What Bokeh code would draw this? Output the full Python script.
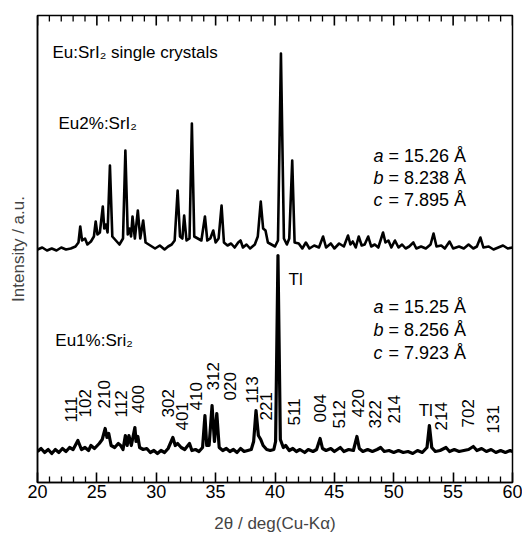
from bokeh.plotting import figure
from bokeh.models import Range1d, FixedTicker
from bokeh.core.properties import value
from bokeh.embed import file_html
from bokeh.resources import INLINE
import math

# ---- data (2theta in deg, intensity in a.u. above each baseline) ----
tt_eu2 = [20.0, 20.4, 20.8, 21.2, 21.6, 22.0, 22.4, 22.8, 23.2, 23.45, 23.6, 23.75, 24.0, 24.2, 24.5,
          24.75, 24.9, 25.05, 25.25, 25.5, 25.62, 25.75, 25.9, 26.1, 26.3, 26.6, 26.9, 27.2, 27.4,
          27.6, 27.75, 27.88, 28.0, 28.2, 28.45, 28.65, 28.9, 29.1, 29.5, 29.9, 30.3, 30.7, 31.0,
          31.3, 31.55, 31.8, 32.0, 32.2, 32.35, 32.55, 32.8, 33.0, 33.2, 33.5, 33.8, 34.1, 34.3,
          34.55, 34.8, 35.0, 35.25, 35.5, 35.7, 36.0, 36.3, 36.6, 36.9, 37.1, 37.3, 37.6, 37.9,
          38.3, 38.55, 38.8, 39.0, 39.2, 39.4, 39.7, 40.0, 40.25, 40.5, 40.75, 41.0, 41.2, 41.45,
          41.65, 42.0, 42.3, 42.6, 42.9, 43.3, 43.7, 44.05, 44.3, 44.7, 45.0, 45.4, 45.8, 46.15,
          46.35, 46.55, 46.8, 47.05, 47.3, 47.55, 47.85, 48.1, 48.4, 48.7, 49.1, 49.3, 49.55, 49.8,
          50.1, 50.4, 50.7, 51.0, 51.3, 51.65, 51.9, 52.3, 52.7, 53.1, 53.35, 53.6, 54.0, 54.3,
          54.7, 55.0, 55.5, 55.9, 56.3, 56.7, 57.0, 57.3, 57.55, 58.0, 58.4, 58.8, 59.2, 59.6, 60.0]
int_eu2 = [1, 3, 0, 2, 0, 3, 1, 2, 4, 8, 24, 10, 12, 6, 9,
           14, 29, 16, 18, 44, 22, 26, 18, 85, 14, 10, 6, 12, 100,
           16, 22, 14, 34, 12, 40, 12, 30, 8, 5, 2, 5, 1, 4,
           6, 10, 60, 14, 12, 35, 10, 12, 127, 14, 12, 10, 34, 10,
           12, 20, 8, 12, 45, 8, 5, 7, 3, 8, 10, 3, 6, 2,
           6, 14, 49, 22, 20, 8, 6, 4, 10, 197, 12, 6, 12, 90,
           8, 7, 2, 8, 2, 5, 3, 14, 3, 7, 2, 7, 4, 15,
           6, 9, 3, 14, 5, 6, 14, 4, 6, 3, 18, 8, 10, 3,
           10, 3, 6, 2, 4, 8, 2, 4, 2, 6, 17, 4, 5, 2,
           9, 2, 4, 2, 6, 2, 4, 13, 3, 4, 1, 3, 5, 2, 3]

tt_eu1 = [20.0, 20.3, 20.6, 20.9, 21.2, 21.5, 21.8, 22.1, 22.4, 22.7, 23.0, 23.4, 23.7, 24.0, 24.3,
          24.5, 24.8, 25.2, 25.45, 25.7, 25.85, 26.0, 26.2, 26.5, 26.8, 27.0, 27.2, 27.4, 27.55,
          27.7, 27.9, 28.2, 28.3, 28.45, 28.6, 28.9, 29.2, 29.5, 29.8, 30.1, 30.4, 30.7, 31.0,
          31.4, 31.6, 31.8, 32.1, 32.4, 32.8, 33.0, 33.3, 33.6, 33.9, 34.1, 34.25, 34.45, 34.7,
          34.9, 35.1, 35.3, 35.6, 35.9, 36.2, 36.5, 36.8, 37.1, 37.4, 37.7, 38.0, 38.2, 38.4,
          38.6, 38.8, 39.0, 39.3, 39.6, 39.9, 40.05, 40.25, 40.45, 40.7, 40.9, 41.2, 41.5, 41.8,
          42.1, 42.5, 42.8, 43.2, 43.5, 43.8, 44.0, 44.3, 44.7, 45.0, 45.5, 45.8, 46.2, 46.6,
          46.9, 47.1, 47.4, 47.8, 48.2, 48.6, 48.9, 49.2, 49.6, 50.0, 50.4, 50.8, 51.2, 51.6,
          52.0, 52.4, 52.8, 53.0, 53.2, 53.5, 53.9, 54.4, 54.7, 55.1, 55.5, 55.9, 56.3, 56.7,
          57.0, 57.4, 57.8, 58.2, 58.6, 59.0, 59.4, 59.8, 60.0]
int_eu1 = [2, 5, 1, 4, 0, 4, 1, 5, 2, 6, 4, 13, 4, 6, 3,
           8, 5, 10, 14, 25, 16, 20, 8, 6, 10, 8, 4, 18, 8,
           18, 8, 26, 12, 17, 6, 4, 5, 1, 3, 0, 3, 1, 5,
           16, 8, 10, 6, 4, 10, 3, 4, 2, 6, 38, 8, 8, 48,
           12, 40, 6, 3, 5, 2, 4, 1, 5, 2, 3, 4, 12, 43,
           18, 14, 8, 4, 3, 4, 12, 198, 14, 6, 8, 3, 5, 2,
           4, 1, 4, 2, 4, 15, 5, 3, 5, 2, 6, 2, 4, 3,
           17, 5, 2, 4, 2, 4, 6, 2, 3, 1, 3, 1, 2, 0,
           3, 1, 6, 28, 6, 2, 3, 6, 2, 4, 2, 3, 4, 7,
           3, 5, 2, 4, 1, 3, 1, 3, 2]

offset_eu2 = 232
offset_eu1 = 29

hkl_labels = ["111", "102", "210", "112", "400", "302", "401", "410", "312", "020", "113", "221",
              "511", "004", "512", "420", "322", "214", "214", "702", "131"]
hkl_pos = [22.86, 23.96, 25.56, 26.99, 28.5, 31.03, 32.13, 33.31, 34.74, 36.17, 38.1, 39.28,
           41.56, 43.83, 45.35, 46.95, 48.46, 49.98, 53.94, 56.29, 58.32]
hkl_y = [60, 65, 74, 65, 69, 65, 52, 72, 92, 82, 79, 62,
         57, 60, 54, 65, 54, 59, 52, 55, 49]

x_ticks = [20, 25, 30, 35, 40, 45, 50, 55, 60]
x_minor_ticks = [21, 22, 23, 24, 26, 27, 28, 29, 31, 32, 33, 34, 36, 37, 38, 39,
                 41, 42, 43, 44, 46, 47, 48, 49, 51, 52, 53, 54, 56, 57, 58, 59]

FONT = "Liberation Sans"
FS = "17px"
Y_TOP = 467  # top of the y range (pixel-scaled a.u.)

p = figure(width=522, height=536, output_backend="svg", toolbar_location=None,
           x_range=Range1d(20, 60), y_range=Range1d(0, Y_TOP),
           min_border_left=37, min_border_right=10, min_border_top=15, min_border_bottom=54)
p.background_fill_color = "white"
p.border_fill_color = "white"
p.grid.visible = False
p.outline_line_color = "black"
p.outline_line_width = 1.5

# traces
p.line(tt_eu2, [v + offset_eu2 for v in int_eu2], line_color="black", line_width=2.6,
       line_join="round")
p.line(tt_eu1, [v + offset_eu1 for v in int_eu1], line_color="black", line_width=3.2,
       line_join="round")

# inward ticks on the top edge (mirroring the bottom axis ticks)
p.multi_line(xs=[[t, t] for t in x_ticks], ys=[[Y_TOP, Y_TOP - 10] for _ in x_ticks],
             line_color="black", line_width=1.6)
p.multi_line(xs=[[t, t] for t in x_minor_ticks], ys=[[Y_TOP, Y_TOP - 6] for _ in x_minor_ticks],
             line_color="black", line_width=1.3)

# bottom axis with inward ticks
xa = p.xaxis[0]
xa.ticker = FixedTicker(ticks=x_ticks, minor_ticks=x_minor_ticks)
xa.major_tick_in = 10
xa.major_tick_out = 0
xa.minor_tick_in = 6
xa.minor_tick_out = 0
xa.major_tick_line_width = 1.6
xa.minor_tick_line_width = 1.3
xa.axis_line_width = 1.5
xa.major_label_text_font = FONT
xa.major_label_text_font_size = "18px"
xa.major_label_text_color = "black"
xa.major_label_standoff = 2
xa.axis_label = "2θ / deg(Cu-Kα)"
xa.axis_label_text_font = FONT
xa.axis_label_text_font_size = "17px"
xa.axis_label_text_font_style = "normal"
xa.axis_label_standoff = 13

# left axis (label only)
ya = p.yaxis[0]
ya.ticker = FixedTicker(ticks=[])
ya.major_tick_line_color = None
ya.minor_tick_line_color = None
ya.major_tick_out = 0
ya.minor_tick_out = 0
ya.axis_line_width = 1.5
ya.axis_label = "Intensity / a.u."
ya.axis_label_text_font = FONT
ya.axis_label_text_font_size = "17px"
ya.axis_label_text_font_style = "normal"
ya.axis_label_standoff = 10


def txt(x, y, s, size=FS, style="normal", align="left", angle=0.0, xoff=0):
    p.text(x=[x], y=[y], text=[s], text_font=value(FONT), text_font_size=value(size),
           text_font_style=style, text_align=align, text_baseline="middle",
           angle=angle, x_offset=xoff, text_color="black")


txt(21.26, 430, "Eu:SrI₂ single crystals")
txt(21.77, 359, "Eu2%:SrI₂")
txt(21.5, 142, "Eu1%:Sri₂")
txt(41.14, 203, "Tl")
txt(52.1, 72, "Tl")

# lattice constants
for (yy, letter, val) in [(327, "a", "= 15.26 Å"), (305, "b", "= 8.238 Å"), (283, "c", "= 7.895 Å"),
                          (176, "a", "= 15.25 Å"), (153, "b", "= 8.256 Å"), (130, "c", "= 7.923 Å")]:
    txt(48.3, yy, letter, size="18px", style="italic")
    txt(48.3, yy, val, size="18px", xoff=15)

# hkl labels
p.text(x=hkl_pos, y=hkl_y, text=hkl_labels, text_font=value(FONT), text_font_size=value(FS),
       text_align="left", text_baseline="middle", angle=math.pi / 2, text_color="black")

open("out.html", "w").write(file_html(p, INLINE))
